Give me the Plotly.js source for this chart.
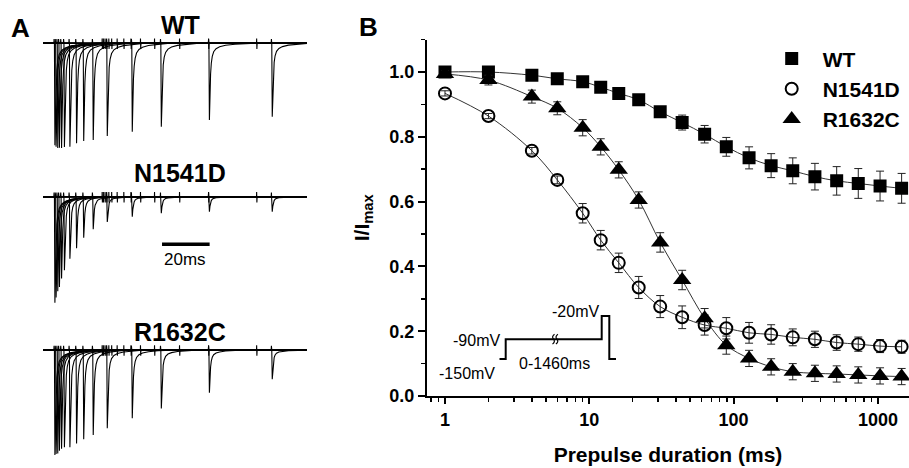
<!DOCTYPE html>
<html><head><meta charset="utf-8">
<script src="https://cdn.plot.ly/plotly-3.0.1.min.js"></script>
<style>html,body{margin:0;padding:0;background:#fff;} #chart{width:909px;height:468px;}</style>
</head><body><div id="chart"></div>
<script>
// ---------- Panel B data ----------
const durations = [1, 2, 4, 6, 9, 12, 16, 22, 31, 44, 63, 89, 128, 182, 257, 366, 518, 731, 1035, 1460];
const wtMean  = [1.0, 1.0, 0.99, 0.979, 0.970, 0.953, 0.934, 0.914, 0.877, 0.844, 0.808, 0.769, 0.735, 0.711, 0.695, 0.677, 0.664, 0.656, 0.648, 0.641];
const wtErr   = [0.008, 0.008, 0.008, 0.008, 0.008, 0.01, 0.01, 0.012, 0.015, 0.023, 0.027, 0.029, 0.034, 0.037, 0.040, 0.041, 0.044, 0.046, 0.046, 0.046];
const nMean   = [0.934, 0.864, 0.757, 0.667, 0.564, 0.481, 0.411, 0.335, 0.276, 0.243, 0.219, 0.209, 0.195, 0.190, 0.181, 0.175, 0.165, 0.160, 0.154, 0.152];
const nErr    = [0.008, 0.008, 0.01, 0.012, 0.03, 0.03, 0.03, 0.034, 0.034, 0.035, 0.031, 0.033, 0.032, 0.03, 0.026, 0.025, 0.024, 0.022, 0.02, 0.02];
const rMean   = [0.994, 0.975, 0.924, 0.888, 0.828, 0.769, 0.698, 0.605, 0.474, 0.358, 0.240, 0.157, 0.116, 0.090, 0.075, 0.070, 0.068, 0.065, 0.062, 0.060];
const rErr    = [0.01, 0.015, 0.02, 0.02, 0.025, 0.025, 0.025, 0.025, 0.03, 0.03, 0.03, 0.028, 0.025, 0.025, 0.025, 0.025, 0.025, 0.025, 0.025, 0.025];
const seriesNames = ['WT', 'N1541D', 'R1632C'];
const xTickVals = [1, 10, 100, 1000];
const xTickText = ['1', '10', '100', '1000'];
const xMinorVals = [0.8, 0.9, 2, 3, 4, 5, 6, 7, 8, 9, 20, 30, 40, 50, 60, 70, 80, 90, 200, 300, 400, 500, 600, 700, 800, 900];
const yTickVals = [0, 0.2, 0.4, 0.6, 0.8, 1.0];
const yTickText = ['0.0', '0.2', '0.4', '0.6', '0.8', '1.0'];
const yMinorVals = [0.1, 0.3, 0.5, 0.7, 0.9, 1.1];

// ---------- Inset protocol (schematic) ----------
const protoLevels = [-150, -90, -20, -150];   // mV
const protoWidths = [6.4, 96, 7.6, 6.7];      // schematic widths (break in the -90 mV step)

// ---------- Panel A data (current traces) ----------
const sweepMs = 111;
const spikeTimes = [4.8, 5.3, 6.0, 6.7, 7.6, 8.8, 11.1, 13.9, 16.9, 20.9, 26.8, 37.3, 49.5, 69.7, 96.1]; // ms
const wtPeaks = [0.97, 0.985, 0.997, 0.994, 0.997, 0.988, 0.985, 0.952, 0.93, 0.921, 0.883, 0.842, 0.794, 0.73, 0.70];
const nPeaks  = [1.01, 0.96, 0.90, 0.86, 0.78, 0.70, 0.59, 0.49, 0.39, 0.31, 0.24, 0.19, 0.158, 0.143, 0.143];
const rPeaks  = [1.0, 0.99, 0.985, 0.96, 0.94, 0.925, 0.925, 0.89, 0.85, 0.81, 0.746, 0.65, 0.556, 0.406, 0.279];
const decayDt   = [0, 0.2, 0.45, 0.7, 1.0, 1.4, 2.0, 3.0, 4.5, 7, 11, 16];
const decayFrac = [0, 1, 0.62, 0.40, 0.26, 0.17, 0.11, 0.07, 0.045, 0.025, 0.012, 0];
const onsetDt = [-0.25, -0.15, -0.05];
const onsetV  = [0, 0.04, 0];
const endDt = [20, 20.05, 20.15, 20.25];
const endV  = [0, 0.045, -0.055, 0];

const FONT = 'Liberation Sans, Arial, Helvetica, sans-serif';

function sweepTrace(peaks, yaxis) {
  const x = [], y = [];
  spikeTimes.forEach((t, i) => {
    x.push(0); y.push(0);
    onsetDt.forEach((d, k) => { x.push(t + d); y.push(onsetV[k]); });
    decayDt.forEach((d, k) => { x.push(t + d); y.push(-peaks[i] * decayFrac[k]); });
    endDt.forEach((d, k) => { x.push(t + d); y.push(endV[k]); });
    x.push(sweepMs); y.push(0);
    x.push(null); y.push(null);
  });
  return {x, y, type:'scatter', mode:'lines', xaxis:'x2', yaxis:yaxis,
          line:{color:'#000', width:1.1}, showlegend:false, hoverinfo:'skip', connectgaps:false};
}

const traces = [];
traces.push(sweepTrace(wtPeaks, 'y2'));
traces.push(sweepTrace(nPeaks, 'y3'));
traces.push(sweepTrace(rPeaks, 'y4'));

// fit lines
[wtMean, nMean, rMean].forEach(m => {
  traces.push({x:durations, y:m, type:'scatter', mode:'lines', xaxis:'x', yaxis:'y',
    line:{color:'#333', width:1, shape:'spline'}, showlegend:false, hoverinfo:'skip'});
});
// markers
traces.push({x:durations, y:wtMean, name:seriesNames[0], type:'scatter', mode:'markers',
  marker:{symbol:'square', size:13, color:'#000'},
  error_y:{type:'data', array:wtErr, visible:true, color:'#222', thickness:1, width:4}});
traces.push({x:durations, y:nMean, name:seriesNames[1], type:'scatter', mode:'markers',
  marker:{symbol:'circle-open', size:12, color:'#000', line:{width:2, color:'#000'}},
  error_y:{type:'data', array:nErr, visible:true, color:'#222', thickness:1, width:4}});
traces.push({x:durations, y:rMean, name:seriesNames[2], type:'scatter', mode:'markers',
  marker:{symbol:'triangle-up', size:16, color:'#000'},
  error_y:{type:'data', array:rErr, visible:true, color:'#222', thickness:1, width:4}});

// protocol inset
const protoX = [0], protoY = [protoLevels[0]];
let acc = 0;
protoLevels.forEach((v, i) => { acc += protoWidths[i]; protoX.push(acc); protoY.push(v); });
traces.push({x:protoX, y:protoY, type:'scatter', mode:'lines', xaxis:'x3', yaxis:'y5',
  line:{color:'#000', width:2, shape:'vh'}, showlegend:false, hoverinfo:'skip', cliponaxis:false});

const W = 909, H = 468;
const px = v => v / W, py = v => 1 - v / H;

function ann(text, x, y, size, opts) {
  return Object.assign({text, x:px(x), y:py(y), xref:'paper', yref:'paper', showarrow:false,
    xanchor:'center', yanchor:'middle', font:{family:FONT, size, color:'#000'}}, opts || {});
}

// small break marks on the -90 mV step of the protocol (two S-curves)
function breakMark(x0) {
  return {type:'path', xref:'x3', yref:'y5', line:{color:'#000', width:1.2},
    path:`M ${x0-1},-105 Q ${x0+2.2},-97.5 ${x0},-90 Q ${x0-2.2},-82.5 ${x0+1},-75`};
}

const layout = {
  width:W, height:H, margin:{l:0, r:0, t:0, b:0}, paper_bgcolor:'#fff', plot_bgcolor:'rgba(0,0,0,0)',
  showlegend:true,
  legend:{x:px(760.7), y:py(38.3), xanchor:'left', yanchor:'top', bgcolor:'rgba(0,0,0,0)',
    font:{family:FONT, size:21, weight:'bold', color:'#000'}, itemwidth:52, tracegroupgap:0},
  xaxis:{type:'log', domain:[px(427), 1], range:[-0.1247, 3.2155], anchor:'y',
    showline:true, linewidth:2, linecolor:'#000', ticks:'outside', ticklen:6, tickwidth:2, tickcolor:'#000',
    tickmode:'array', tickvals:xTickVals, ticktext:xTickText,
    tickfont:{family:FONT, size:18, weight:'bold', color:'#000'}, showgrid:false, zeroline:false,
    minor:{tickmode:'array', tickvals:xMinorVals, ticks:'outside', ticklen:4, tickwidth:1.5, tickcolor:'#000', showgrid:false},
    title:{text:'<b>Prepulse duration (ms)</b>', font:{family:FONT, size:21, color:'#000'}, standoff:19}},
  yaxis:{domain:[py(396), py(39.6)], range:[0, 1.1], anchor:'x',
    showline:true, linewidth:2, linecolor:'#000', ticks:'outside', ticklen:7, tickwidth:2, tickcolor:'#000',
    tickmode:'array', tickvals:yTickVals, ticktext:yTickText,
    tickfont:{family:FONT, size:18, weight:'bold', color:'#000'}, showgrid:false, zeroline:false,
    minor:{tickmode:'array', tickvals:yMinorVals, ticks:'outside', ticklen:4, tickwidth:1.5, tickcolor:'#000', showgrid:false},
    title:{text:'<b>I/I<sub>max</sub></b>', font:{family:FONT, size:21, color:'#000'}, standoff:14}},
  xaxis2:{domain:[px(43), px(307)], range:[0, 110.9], visible:false, anchor:'y2'},
  yaxis2:{domain:[py(158.8), py(32.8)], range:[-1.1, 0.1], visible:false, anchor:'x2'},
  yaxis3:{domain:[py(312.2), py(186.2)], range:[-1.1, 0.1], visible:false, anchor:'x2'},
  yaxis4:{domain:[py(465.5), py(339.5)], range:[-1.1, 0.1], visible:false, anchor:'x2'},
  xaxis3:{domain:[px(499.3), px(616)], range:[0, 116.7], visible:false, anchor:'y5'},
  yaxis5:{domain:[py(360.7), py(314.3)], range:[-155, -15], visible:false, anchor:'x3'},
  shapes:[
    {type:'line', xref:'x2', yref:'paper', x0:50, x1:70, y0:py(244.3), y1:py(244.3), line:{color:'#000', width:3.5}},
    breakMark(54.2), breakMark(57.6)
  ],
  annotations:[
    ann('<b>A</b>', 20, 28, 26),
    ann('<b>B</b>', 368, 27, 26),
    ann('<b>WT</b>', 180, 25, 25),
    ann('<b>N1541D</b>', 180, 173, 25),
    ann('<b>R1632C</b>', 180, 332, 25),
    ann('20ms', 185, 259, 17),
    ann('-90mV', 501.7, 340, 16, {xanchor:'right'}),
    ann('-150mV', 497.3, 373.3, 16, {xanchor:'right'}),
    ann('0-1460ms', 554.7, 363.3, 16),
    ann('-20mV', 575, 311.7, 16)
  ]
};

Plotly.newPlot('chart', traces, layout, {staticPlot:true, displayModeBar:false});
</script>
</body></html>
